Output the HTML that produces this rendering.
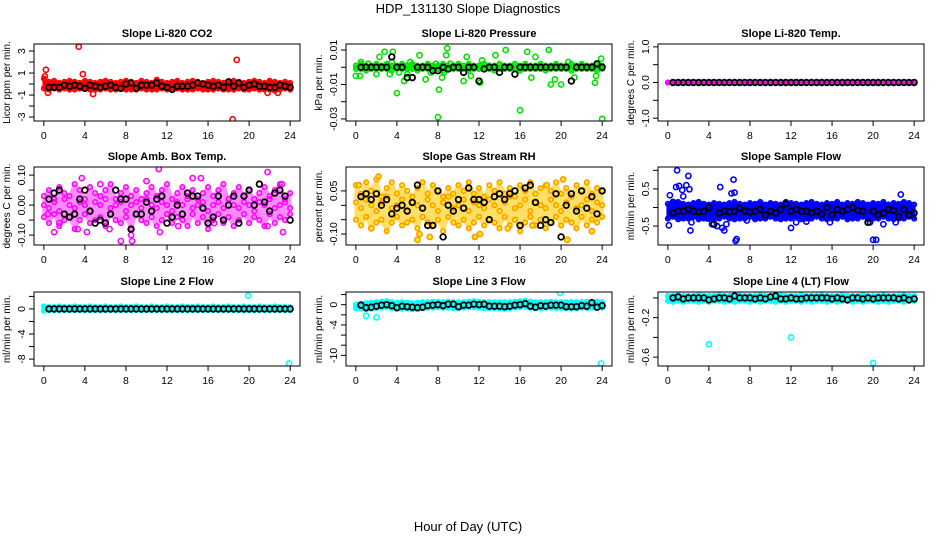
<!DOCTYPE html>
<html><head><meta charset="utf-8">
<style>
html,body{margin:0;padding:0;background:#fff;}
svg{display:block;font-family:"Liberation Sans",Arial,sans-serif;}
</style></head>
<body>
<svg id="chart" width="936" height="540" viewBox="0 0 936 540" xmlns="http://www.w3.org/2000/svg">
<text x="468" y="13" text-anchor="middle" font-size="13">HDP_131130  Slope Diagnostics</text>
<text x="468" y="531" text-anchor="middle" font-size="13">Hour of Day (UTC)</text>
</svg>
<script>
const hours = [0,0.5,1,1.5,2,2.5,3,3.5,4,4.5,5,5.5,6,6.5,7,7.5,8,8.5,9,9.5,10,10.5,11,11.5,12,12.5,13,13.5,14,14.5,15,15.5,16,16.5,17,17.5,18,18.5,19,19.5,20,20.5,21,21.5,22,22.5,23,23.5,24];
const xTicks = [0,4,8,12,16,20,24];

const co2Hi = [0.5,0.2,0.3,0.1,0.2,0.3,0.2,0.1,0.3,0.2,0.1,0.2,0.3,0.2,0.1,0.2,0.3,0.2,0.1,0.3,0.2,0.1,0.4,0.2,0.1,0.2,0.3,0.1,0.2,0.3,0.2,0.1,0.2,0.3,0.2,0.1,0.2,0.3,0.2,0.1,0.2,0.3,0.2,0.1,0.3,0.2,0.1,0.2,0.1];
const co2Lo = [-0.4,-0.5,-0.4,-0.5,-0.4,-0.5,-0.5,-0.4,-0.4,-0.5,-0.5,-0.5,-0.4,-0.5,-0.5,-0.4,-0.5,-0.5,-0.5,-0.4,-0.5,-0.5,-0.5,-0.4,-0.5,-0.5,-0.4,-0.5,-0.5,-0.5,-0.4,-0.5,-0.5,-0.5,-0.4,-0.5,-0.5,-0.5,-0.4,-0.5,-0.5,-0.4,-0.5,-0.5,-0.5,-0.6,-0.5,-0.4,-0.5];
const co2Blk = [null,-0.3,-0.3,-0.3,-0.1,-0.2,-0.1,-0.2,-0.4,-0.1,-0.2,-0.3,-0.2,-0.1,-0.3,-0.4,0.0,0.1,-0.4,-0.1,-0.1,-0.1,0.1,-0.2,-0.3,-0.5,-0.2,-0.2,-0.2,-0.1,0.1,0.0,-0.1,-0.2,-0.1,-0.3,0.2,-0.2,0.1,-0.3,-0.1,0.0,-0.2,-0.2,-0.3,-0.3,-0.1,-0.2,-0.3];
const co2Extra = [[0.2,1.3],[0.1,0.7],[0.4,-0.8],[3.4,3.4],[3.8,0.9],[4.8,-0.9],[18.8,2.2],[18.4,-3.2],[21.8,-0.8],[22.8,-0.8]];

const prHi = [0.001,0.002,0.001,0.001,0.002,0.001,0.002,0.001,0.001,0.002,0.001,0.002,0.001,0.001,0.002,0.001,0.001,0.002,0.001,0.001,0.002,0.001,0.002,0.001,0.001,0.002,0.001,0.001,0.002,0.001,0.001,0.002,0.001,0.002,0.001,0.001,0.002,0.001,0.001,0.002,0.001,0.001,0.002,0.001,0.002,0.001,0.001,0.002,0.001];
const prLo = [-0.001,-0.001,-0.002,-0.001,-0.001,-0.001,-0.001,-0.002,-0.001,-0.001,-0.001,-0.001,-0.002,-0.001,-0.001,-0.001,-0.001,-0.002,-0.001,-0.001,-0.001,-0.001,-0.002,-0.001,-0.001,-0.001,-0.001,-0.002,-0.001,-0.001,-0.001,-0.001,-0.002,-0.001,-0.001,-0.001,-0.001,-0.002,-0.001,-0.001,-0.001,-0.001,-0.002,-0.001,-0.001,-0.001,-0.001,-0.002,-0.001];
const prBlk = [null,0,0,0,0,0,0,0.006,0,0,-0.006,-0.006,0,0,0,-0.002,-0.002,0,-0.001,0,0,-0.003,0,0,-0.008,-0.001,0,0,-0.003,0,0,-0.004,0,0,0,0,0,0,0,0,0,0,-0.008,0,0,0,0,0.002,0];
const prExtra = [[0,-0.005],[0.4,-0.005],[0.5,0.003],[1.2,0.002],[2,-0.004],[2.3,0.006],[2.8,0.009],[3.3,-0.004],[3.5,0.003],[3.6,0.009],[4,-0.015],[4.2,-0.003],[4.7,-0.008],[5,-0.004],[5.3,0.003],[6.2,0.007],[6.8,-0.007],[7.3,-0.003],[7.8,0.002],[8.1,-0.013],[8,-0.029],[8.4,-0.006],[8.6,-0.003],[8.8,0.007],[8.9,0.011],[9.2,0.002],[10.5,-0.008],[10.8,0.006],[11.2,-0.005],[12.1,-0.009],[12.3,0.004],[13.6,0.007],[14.6,0.01],[16,-0.025],[16.7,0.009],[17.1,-0.006],[17.5,0.006],[18.8,0.01],[19,-0.01],[19.4,-0.007],[20,-0.01],[20.7,0.003],[21.3,-0.006],[23.3,-0.009],[23.4,-0.005],[23.9,0.005],[24,-0.03]];

const tmpVals = [0,0,0,0,0,0,0,0,0,0,0,0,0,0,0,0,0,0,0,0,0,0,0,0,0,0,0,0,0,0,0,0,0,0,0,0,0,0,0,0,0,0,0,0,0,0,0,0,0];
const tmpBlk = [null,0,0,0,0,0,0,0,0,0,0,0,0,0,0,0,0,0,0,0,0,0,0,0,0,0,0,0,0,0,0,0,0,0,0,0,0,0,0,0,0,0,0,0,0,0,0,0,0];

const ambHi = [0.03,0.05,0.02,0.06,0.04,0.03,0.07,0.05,0.02,0.06,0.04,0.03,0.05,0.07,0.02,0.04,0.06,0.03,0.05,0.02,0.04,0.06,0.03,0.05,0.07,0.02,0.04,0.06,0.03,0.05,0.02,0.04,0.06,0.03,0.05,0.07,0.02,0.04,0.06,0.03,0.05,0.02,0.04,0.06,0.03,0.05,0.07,0.02,0.04];
const ambLo = [-0.04,-0.06,-0.03,-0.07,-0.05,-0.04,-0.08,-0.05,-0.03,-0.06,-0.05,-0.04,-0.07,-0.03,-0.05,-0.06,-0.04,-0.08,-0.03,-0.05,-0.06,-0.04,-0.07,-0.05,-0.03,-0.06,-0.04,-0.05,-0.07,-0.03,-0.06,-0.04,-0.08,-0.05,-0.03,-0.06,-0.04,-0.07,-0.05,-0.03,-0.06,-0.04,-0.05,-0.07,-0.03,-0.06,-0.04,-0.05,-0.03];
const ambMid = [0.0,-0.01,0.01,-0.02,0.02,0.0,-0.01,0.01,0.0,-0.02,0.01,0.0,0.02,-0.01,0.0,0.01,-0.02,0.0,0.01,-0.01,0.02,0.0,-0.01,0.01,0.0,-0.02,0.01,0.0,0.02,-0.01,0.0,0.01,-0.02,0.0,0.01,-0.01,0.02,0.0,-0.01,0.01,0.0,-0.02,0.01,0.0,0.02,-0.01,0.0,0.01,-0.01];
const ambBlk = [null,0.02,0.04,0.05,-0.03,-0.04,-0.03,0.02,0.05,-0.02,-0.06,-0.05,-0.06,-0.03,0.05,0.02,0.02,-0.08,-0.03,-0.03,0.01,-0.02,0.02,0.03,-0.06,-0.04,0.0,-0.03,0.04,0.03,0.03,-0.01,-0.06,-0.04,0.03,-0.05,0.0,0.03,-0.06,0.03,0.05,0.0,0.07,0.01,-0.02,0.04,0.05,0.03,-0.05];
const ambExtra = [[0.4,-0.03],[1.0,-0.09],[3.3,-0.08],[3.7,0.09],[4.2,-0.09],[6.4,-0.08],[7.5,-0.12],[8.6,-0.12],[8.5,-0.1],[10,0.08],[11.2,0.12],[11.3,-0.09],[13.1,-0.07],[14.5,0.09],[15.3,0.09],[16.6,-0.06],[21.8,0.11],[21.8,-0.07],[23.3,-0.09],[23.2,0.07],[1.5,-0.06],[5.5,0.07]];

const rhHi = [0.07,0.04,0.08,0.05,0.09,0.03,0.06,0.08,0.04,0.07,0.05,0.03,0.06,0.08,0.04,0.07,0.05,0.03,0.06,0.04,0.07,0.05,0.08,0.04,0.06,0.03,0.07,0.05,0.08,0.04,0.06,0.03,0.07,0.05,0.08,0.04,0.06,0.07,0.05,0.08,0.04,0.06,0.03,0.07,0.05,0.08,0.04,0.06,0.05];
const rhLo = [-0.05,-0.07,-0.04,-0.08,-0.06,-0.05,-0.09,-0.06,-0.04,-0.07,-0.06,-0.05,-0.08,-0.04,-0.06,-0.07,-0.05,-0.09,-0.04,-0.06,-0.07,-0.05,-0.08,-0.06,-0.04,-0.07,-0.05,-0.06,-0.08,-0.04,-0.07,-0.05,-0.09,-0.06,-0.04,-0.07,-0.05,-0.08,-0.06,-0.04,-0.07,-0.05,-0.06,-0.08,-0.04,-0.07,-0.05,-0.06,-0.04];
const rhMid = [0.01,-0.01,0.02,0.0,-0.02,0.01,0.03,-0.01,0.0,0.02,-0.02,0.01,0.0,-0.01,0.02,0.0,-0.02,0.01,0.03,-0.01,0.0,0.02,-0.02,0.01,0.0,-0.01,0.02,0.0,-0.02,0.01,0.03,-0.01,0.0,0.02,-0.02,0.01,0.0,-0.01,0.02,0.0,-0.02,0.01,0.03,-0.01,0.0,0.02,-0.02,0.01,0.0];
const rhBlk = [null,0.03,0.04,0.02,0.04,0.0,0.02,-0.03,-0.01,0.0,-0.02,0.01,0.07,-0.01,-0.07,-0.07,0.05,-0.11,0.0,-0.02,0.02,-0.01,0.06,0.02,0.02,0.01,-0.05,0.03,0.04,0.02,0.04,0.05,-0.07,0.06,0.07,0.01,-0.07,-0.05,-0.06,0.04,-0.11,0.0,0.04,-0.02,0.05,-0.01,0.03,-0.03,0.05];
const rhExtra = [[2.2,0.1],[6.2,-0.1],[6,-0.12],[7.2,-0.11],[11.6,-0.11],[12.1,-0.1],[14.8,-0.08],[20.2,0.09],[20.6,-0.12],[23,-0.09],[0.3,0.07],[1.5,-0.08],[17.2,-0.07],[18.6,0.07]];

const sfHi = [0.1,0.12,0.15,0.1,0.08,0.12,0.15,0.1,0.08,0.12,0.1,0.08,0.12,0.15,0.1,0.08,0.12,0.1,0.15,0.08,0.12,0.1,0.08,0.15,0.12,0.1,0.08,0.12,0.15,0.1,0.08,0.12,0.1,0.15,0.08,0.12,0.1,0.15,0.12,0.08,0.12,0.1,0.15,0.08,0.12,0.1,0.15,0.12,0.08];
const sfLo = [-0.3,-0.25,-0.32,-0.3,-0.3,-0.25,-0.32,-0.3,-0.3,-0.32,-0.3,-0.25,-0.3,-0.32,-0.3,-0.3,-0.25,-0.32,-0.3,-0.3,-0.25,-0.3,-0.32,-0.3,-0.3,-0.25,-0.32,-0.3,-0.3,-0.25,-0.3,-0.32,-0.3,-0.3,-0.25,-0.32,-0.3,-0.3,-0.25,-0.32,-0.3,-0.3,-0.25,-0.3,-0.32,-0.3,-0.3,-0.25,-0.3];
const sfBlk = [null,-0.15,-0.1,-0.1,-0.05,-0.1,-0.12,-0.1,0.0,-0.45,-0.15,-0.1,-0.12,-0.1,-0.02,-0.1,-0.12,-0.1,-0.05,-0.2,-0.1,-0.15,-0.05,0.1,-0.1,-0.05,-0.1,-0.1,-0.15,-0.1,-0.18,0.0,-0.2,-0.05,-0.1,-0.05,0.0,-0.08,-0.1,-0.4,-0.1,-0.2,-0.15,-0.05,-0.08,-0.25,-0.05,-0.2,-0.15];
const sfExtra = [[0.1,-0.48],[0.2,0.33],[0.5,0.15],[0.8,0.55],[0.9,1.0],[1.1,0.58],[1.4,0.47],[1.5,0.3],[1.8,0.6],[2,0.85],[2.1,0.49],[2.2,-0.62],[2.3,-0.4],[3.9,-0.3],[4.3,-0.45],[4.8,-0.5],[5.1,0.55],[5.3,-0.55],[5.5,-0.62],[5.7,-0.45],[6.2,0.38],[6.4,0.75],[6.5,0.4],[6.6,-0.9],[6.7,-0.85],[7.7,-0.35],[12,-0.55],[12.5,-0.4],[13.5,-0.38],[15.8,-0.4],[19.7,-0.4],[20,-0.87],[20.3,-0.87],[21,-0.45],[22.2,-0.4],[22.7,0.35]];

const l2Hi = [0.4,0.3,0.3,0.4,0.3,0.3,0.4,0.3,0.3,0.4,0.3,0.3,0.4,0.3,0.3,0.4,0.3,0.3,0.4,0.3,0.3,0.4,0.3,0.3,0.4,0.3,0.3,0.4,0.3,0.3,0.4,0.3,0.3,0.4,0.3,0.3,0.4,0.3,0.3,0.4,0.3,0.3,0.4,0.3,0.3,0.4,0.3,0.3,0.3];
const l2Lo = [-0.3,-0.2,-0.2,-0.2,-0.2,-0.2,-0.2,-0.2,-0.2,-0.2,-0.2,-0.2,-0.2,-0.2,-0.2,-0.2,-0.2,-0.2,-0.2,-0.2,-0.2,-0.2,-0.2,-0.2,-0.2,-0.2,-0.2,-0.2,-0.2,-0.2,-0.2,-0.2,-0.2,-0.2,-0.2,-0.2,-0.2,-0.2,-0.2,-0.2,-0.2,-0.2,-0.2,-0.2,-0.2,-0.2,-0.2,-0.2,-0.2];
const l2Blk = [null,0,0,0,0,0,0,0,0,0,0,0,0,0,0,0,0,0,0,0,0,0,0,0,0,0,0,0,0,0,0,0,0,0,0,0,0,0,0,0,0,0,0,0,0,0,0,0,0];
const l2Extra = [[19.9,2.1],[23.9,-8.7]];

const l3Hi = [0.0,0.2,0.3,0.4,0.5,0.6,0.7,0.5,0.4,0.5,0.4,0.3,0.4,0.5,0.5,0.6,0.6,0.5,0.6,0.5,0.5,0.5,0.6,0.7,0.6,0.5,0.5,0.5,0.5,0.5,0.5,0.6,0.7,0.8,0.6,0.5,0.5,0.5,0.6,0.5,0.5,0.5,0.5,0.5,0.5,0.6,0.5,0.6,0.5];
const l3Lo = [-0.7,-0.8,-0.9,-0.8,-0.7,-0.6,-0.5,-0.7,-0.8,-0.8,-0.8,-0.9,-0.8,-0.7,-0.6,-0.6,-0.5,-0.6,-0.6,-0.7,-0.7,-0.6,-0.5,-0.5,-0.6,-0.7,-0.7,-0.7,-0.7,-0.8,-0.7,-0.6,-0.5,-0.4,-0.6,-0.7,-0.7,-0.6,-0.6,-0.7,-0.7,-0.7,-0.7,-0.7,-0.6,-0.7,-0.6,-0.5,-0.6];
const l3Blk = [null,-0.1,-0.6,-0.5,-0.3,-0.1,0.0,-0.2,-0.6,-0.3,-0.4,-0.5,-0.6,-0.5,-0.2,-0.1,0.0,-0.2,0.1,0.1,-0.4,-0.1,-0.1,0.1,0.0,0.1,-0.3,-0.3,-0.3,-0.4,-0.3,-0.1,0.0,0.2,-0.3,-0.5,-0.2,-0.3,-0.1,-0.1,-0.1,-0.4,-0.4,-0.4,-0.2,-0.3,0.4,-0.5,-0.2];
const l3Extra = [[1,-2.2],[2,-2.5],[19.9,2.3],[23.9,-11.6]];

const l4Hi = [0.02,0.02,0.03,0.02,0.02,0.02,0.03,0.02,0.02,0.02,0.03,0.02,0.02,0.02,0.03,0.02,0.02,0.02,0.03,0.02,0.02,0.02,0.03,0.02,0.02,0.02,0.03,0.02,0.02,0.02,0.03,0.02,0.02,0.02,0.03,0.02,0.02,0.02,0.03,0.02,0.02,0.02,0.03,0.02,0.02,0.02,0.03,0.02,0.02];
const l4Lo = [-0.03,-0.04,-0.03,-0.04,-0.03,-0.03,-0.04,-0.03,-0.04,-0.03,-0.03,-0.04,-0.03,-0.04,-0.03,-0.03,-0.04,-0.03,-0.04,-0.03,-0.03,-0.04,-0.03,-0.04,-0.03,-0.03,-0.04,-0.03,-0.04,-0.03,-0.03,-0.04,-0.03,-0.04,-0.03,-0.03,-0.04,-0.03,-0.04,-0.03,-0.03,-0.04,-0.03,-0.04,-0.03,-0.03,-0.04,-0.03,-0.03];
const l4Blk = [null,0.0,0.01,-0.01,0.0,0.0,0.0,0.0,-0.02,-0.01,0.0,0.0,-0.01,0.02,0.0,0.0,0.0,-0.01,0.0,-0.01,0.01,0.02,-0.01,-0.01,0.0,-0.01,-0.01,0.0,0.0,0.0,0.0,0.0,-0.01,0.0,-0.01,-0.02,0.0,0.0,-0.01,0.0,-0.01,0.0,0.0,0.0,0.0,-0.01,0.0,-0.02,-0.01];
const l4Extra = [[4,-0.47],[12,-0.4],[20,-0.66]];

const svg = document.getElementById('chart');
const NS = 'http://www.w3.org/2000/svg';
function mk(tag, attrs, parent){
  const e = document.createElementNS(NS, tag);
  for (const k in attrs) e.setAttribute(k, attrs[k]);
  (parent||svg).appendChild(e);
  return e;
}

const colL = [34, 346, 658];
const rowT = [44, 167, 292];
const rowH = [77, 78, 74];
const boxW = 266;

const panels = [
 {key:'co2', title:'Slope Li-820 CO2', ylab:'Licor ppm per min.', c:0, r:0, ymin:-3.36, ymax:3.64, ticks:[-3,-2,-1,0,1,2,3], labels:[-3,-1,1,3], lf:v=>String(v), col:'#ff0000', fillCol:'#ff0000', series:[co2Hi,co2Lo], fill:true, blk:co2Blk, extra:co2Extra},
 {key:'pressure', title:'Slope Li-820 Pressure', ylab:'kPa per min.', c:1, r:0, ymin:-0.0312, ymax:0.0135, ticks:[-0.03,-0.02,-0.01,0,0.01], labels:[-0.03,-0.01,0.01], lf:v=>v.toFixed(2), col:'#00e000', fillCol:'#00ff00', series:[prHi,prLo], fill:true, blk:prBlk, extra:prExtra},
 {key:'temp', title:'Slope Li-820 Temp.', ylab:'degrees C per min.', c:2, r:0, ymin:-1.08, ymax:1.08, ticks:[-1,-0.5,0,0.5,1], labels:[-1,0,1], lf:v=>v.toFixed(1), col:'#ff00ff', fillCol:'#ff00ff', series:[tmpVals,tmpVals], fill:true, blk:tmpBlk, extra:[]},
 {key:'amb-box', title:'Slope Amb. Box Temp.', ylab:'degrees C per min.', c:0, r:1, ymin:-0.133, ymax:0.127, ticks:[-0.1,-0.05,0,0.05,0.1], labels:[-0.1,0,0.1], lf:v=>v.toFixed(2), col:'#ff00ff', fillCol:'#ff00ff', fillOp:0.45, series:[ambHi,ambLo,ambMid], fill:true, blk:ambBlk, extra:ambExtra},
 {key:'gas-rh', title:'Slope Gas Stream RH', ylab:'percent per min.', c:1, r:1, ymin:-0.138, ymax:0.133, ticks:[-0.1,-0.05,0,0.05], labels:[-0.1,0.05], lf:v=>v.toFixed(2), col:'#ff9900', fillCol:'#ffcc00', fillOp:0.6, series:[rhHi,rhLo,rhMid], fill:true, blk:rhBlk, extra:rhExtra},
 {key:'sample-flow', title:'Slope Sample Flow', ylab:'ml/min per min.', c:2, r:1, ymin:-1.01, ymax:1.09, ticks:[-0.5,0,0.5,1], labels:[-0.5,0.5], lf:v=>v.toFixed(1), col:'#0000ff', fillCol:'#0000ff', series:[sfHi,sfLo], fill:true, blk:sfBlk, extra:sfExtra},
 {key:'line2-flow', title:'Slope Line 2 Flow', ylab:'ml/min per min.', c:0, r:2, ymin:-9.1, ymax:2.7, ticks:[-8,-6,-4,-2,0,2], labels:[-8,-4,0], lf:v=>String(v), col:'#00ffff', fillCol:'#00ffff', series:[l2Hi,l2Lo], fill:true, blk:l2Blk, extra:l2Extra},
 {key:'line3-flow', title:'Slope Line 3 Flow', ylab:'ml/min per min.', c:1, r:2, ymin:-12.1, ymax:2.5, ticks:[-10,-8,-6,-4,-2,0,2], labels:[-10,-4,0], lf:v=>String(v), col:'#00ffff', fillCol:'#00ffff', series:[l3Hi,l3Lo], fill:true, blk:l3Blk, extra:l3Extra},
 {key:'line4-flow', title:'Slope Line 4 (LT) Flow', ylab:'ml/min per min.', c:2, r:2, ymin:-0.69, ymax:0.06, ticks:[-0.6,-0.4,-0.2,0], labels:[-0.6,-0.2], lf:v=>v.toFixed(1), col:'#00ffff', fillCol:'#00ffff', series:[l4Hi,l4Lo], fill:true, blk:l4Blk, extra:l4Extra}
];

panels.forEach(p=>{
  const L = colL[p.c], T = rowT[p.r], H = rowH[p.r], R = L + boxW, B = T + H;
  const xs = v => L + (v + 0.96) / 25.92 * boxW;
  const ys = v => B - (v - p.ymin) / (p.ymax - p.ymin) * H;
  const g = mk('g', {});
  
  

  const t = mk('text', {x:(L+R)/2, y:T-7, 'text-anchor':'middle', 'font-size':11, 'font-weight':'bold'}, g);
  t.textContent = p.title;
  
  

  const xa = mk('g', {}, g);
  
  
  xTicks.forEach(v=>{
    mk('line', {x1:xs(v), x2:xs(v), y1:B, y2:B+5, stroke:'#000'}, xa);
    const tl = mk('text', {x:xs(v), y:B+18, 'text-anchor':'middle', 'font-size':10.5}, xa);
    tl.textContent = v;
    
    
  });

  const ya = mk('g', {}, g);
  
  
  p.ticks.forEach(v=>{
    mk('line', {x1:L-5, x2:L, y1:ys(v), y2:ys(v), stroke:'#000'}, ya);
  });
  p.labels.forEach(v=>{
    const x = L-9, y = ys(v);
    const tl = mk('text', {x:x, y:y, 'text-anchor':'middle', 'font-size':10.5, transform:`rotate(-90 ${x} ${y})`}, ya);
    tl.textContent = p.lf(v);
    
    
  });
  const yx = L-24, yy = (T+B)/2;
  const yt = mk('text', {x:yx, y:yy, 'text-anchor':'middle', 'font-size':10, transform:`rotate(-90 ${yx} ${yy})`}, g);
  yt.textContent = p.ylab;
  
  

  const cid = 'clip-' + p.key;
  const cp = mk('clipPath', {id:cid}, g);
  mk('rect', {x:L, y:T, width:boxW, height:H}, cp);
  const pts = mk('g', {'clip-path':`url(#${cid})`}, g);
  
  

  if (p.fill) {
    const a = p.series[0], b = p.series[1];
    let d = '';
    a.forEach((v,i)=>{ d += (i?'L':'M') + xs(hours[i]).toFixed(1) + ' ' + ys(v).toFixed(1); });
    for (let i=b.length-1;i>=0;i--) d += 'L' + xs(hours[i]).toFixed(1) + ' ' + ys(b[i]).toFixed(1);
    d += 'Z';
    const band = mk('path', {d:d, fill:p.fillCol, stroke:p.fillCol, 'stroke-width':3, 'stroke-linejoin':'round', opacity:(p.fillOp||1)}, pts);
    
    
  }
  p.series.forEach(arr=>{
    arr.forEach((v,i)=>{
      if (v===null) return;
      const c = mk('circle', {cx:xs(hours[i]), cy:ys(v), r:2.3, fill:(p.key==='gas-rh'?'#ffee00':'none'), stroke:p.col, 'stroke-width':1.5}, pts);
      
      
    });
  });
  p.extra.forEach(e=>{
    const c = mk('circle', {cx:xs(e[0]), cy:ys(e[1]), r:2.6, fill:(p.key==='gas-rh'?'#ffee00':'none'), stroke:p.col, 'stroke-width':1.6}, pts);
    
    
  });
  p.blk.forEach((v,i)=>{
    if (v===null) return;
    const c = mk('circle', {cx:xs(hours[i]), cy:ys(v), r:2.8, fill:'none', stroke:'#000', 'stroke-width':1.8}, pts);
    
    
  });

  const box = mk('rect', {x:L, y:T, width:boxW, height:H, fill:'none', stroke:'#000', 'stroke-width':1}, g);
  
  
});
</script>
</body></html>
